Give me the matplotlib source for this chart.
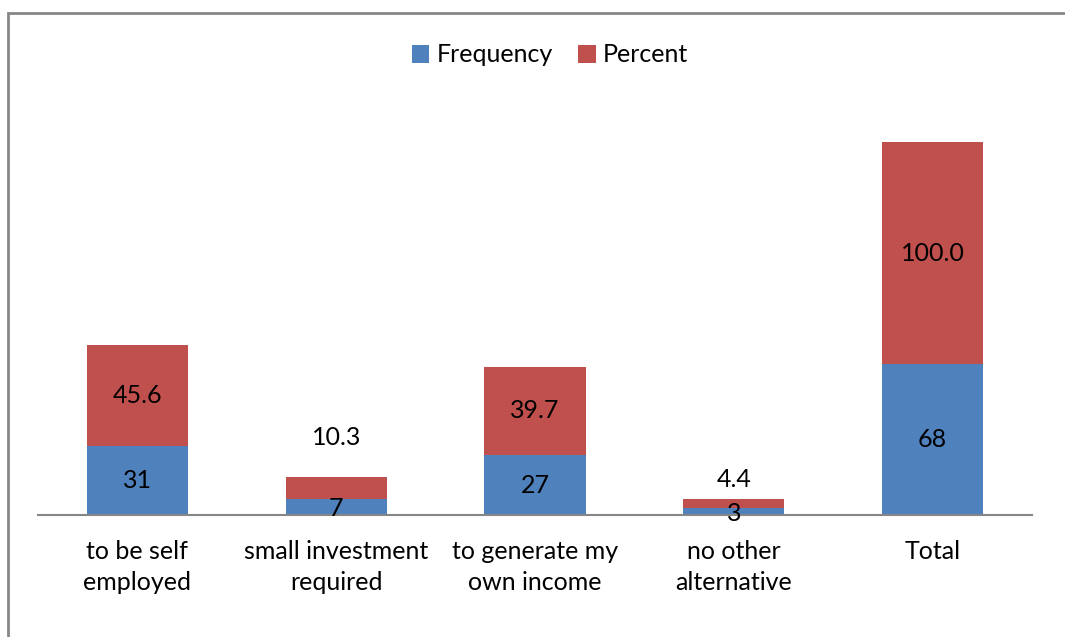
import matplotlib.pyplot as plt
from matplotlib.patches import Rectangle

plt.rcParams["font.family"] = ["Lato", "DejaVu Sans"]
plt.rcParams["font.size"] = 18

categories = ["to be self\nemployed", "small investment\nrequired",
              "to generate my\nown income", "no other\nalternative", "Total"]
frequency = [31, 7, 27, 3, 68]
percent = [45.6, 10.3, 39.7, 4.4, 100.0]

blue = "#4F81BD"
red = "#C0504D"

W, H = 1065, 637
fig = plt.figure(figsize=(W / 100, H / 100), dpi=100)

# plot area in pixel terms: x axis line at y=515, spanning 38..1032
ax = fig.add_axes([38 / W, (H - 515) / H, 994 / W, 415 / H])
x = list(range(len(categories)))
ax.bar(x, frequency, width=0.51, color=blue, label="Frequency", zorder=2)
ax.bar(x, percent, width=0.51, bottom=frequency, color=red, label="Percent", zorder=2)

ax.set_xlim(-0.5, len(categories) - 0.5)
ax.set_ylim(0, 415 / (373 / 168))

# value labels
for i, (f, p) in enumerate(zip(frequency, percent)):
    ax.text(i, f / 2 - (0.6 if f < 10 else 0), str(f), ha="center", va="center", zorder=3)
    ptxt = "%.1f" % p
    if p < 15:
        # small segments get the label lifted above the bar
        ax.text(i, f + p + (17.4 if p > 5 else 8.4), ptxt, ha="center", va="center", zorder=3)
    else:
        ax.text(i, f + p / 2, ptxt, ha="center", va="center", zorder=3)

for s in ["top", "right", "left"]:
    ax.spines[s].set_visible(False)
ax.spines["bottom"].set_color("#868686")
ax.spines["bottom"].set_linewidth(1.5)
ax.set_yticks([])
ax.set_xticks(x)
ax.set_xticklabels(categories, linespacing=1.42)
ax.tick_params(axis="x", length=0, pad=18)

leg = fig.legend(loc="center", bbox_to_anchor=(550 / W, 1 - 55 / H), ncol=2,
                 frameon=False, handlelength=0.7, handleheight=0.7,
                 handletextpad=0.3, columnspacing=1.0)

# outer chart border (left and top edges visible)
fig.patches.append(Rectangle((8 / W, -0.1), 1.2, 1 - 13 / H + 0.1,
                             transform=fig.transFigure, fill=False,
                             edgecolor="#878787", linewidth=2))

fig.savefig("out.png", dpi=100)
